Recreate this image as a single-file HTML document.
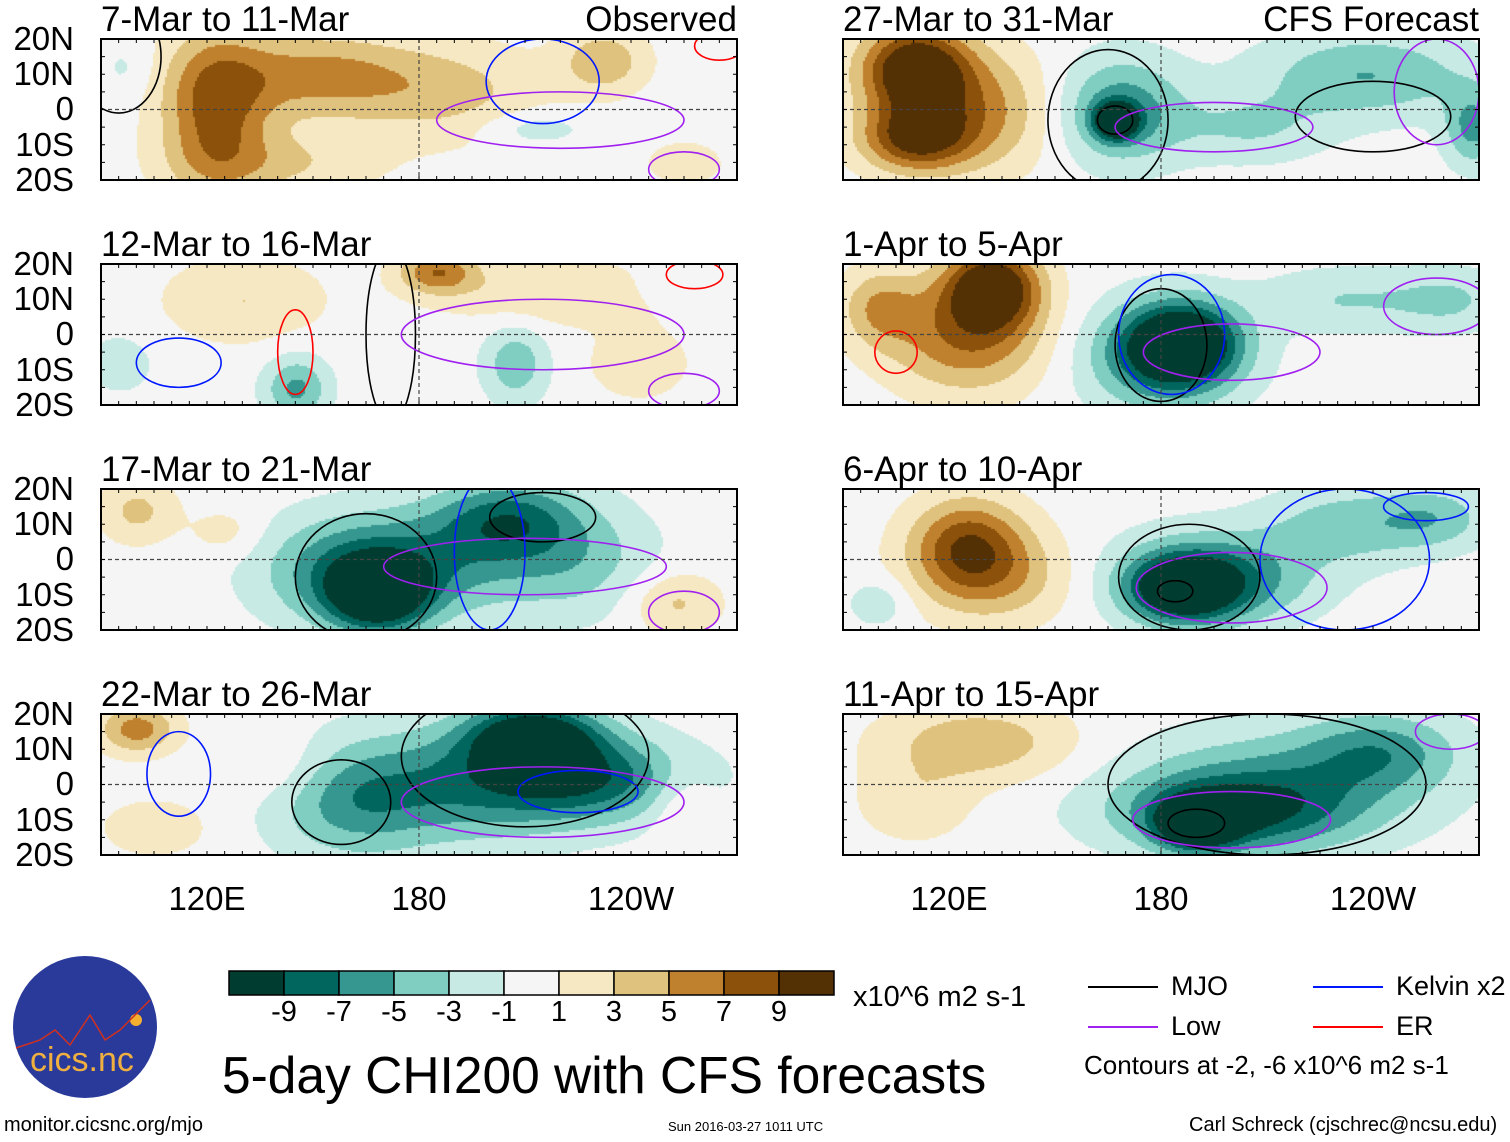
<!DOCTYPE html>
<html><head><meta charset="utf-8">
<style>
body{margin:0;background:#fff;width:1510px;height:1142px;position:relative;overflow:hidden;font-family:"Liberation Sans",sans-serif;}
.t{position:absolute;white-space:nowrap;color:#000;line-height:1;}
canvas{position:absolute;}
</style></head><body>
<svg id="frames" width="1510" height="1142" style="position:absolute;left:0;top:0;z-index:2"></svg>
<div id="texts"></div>
<script>
// ---- data ----
const panelTitles = ["7-Mar to 11-Mar","12-Mar to 16-Mar","17-Mar to 21-Mar","22-Mar to 26-Mar","27-Mar to 31-Mar","1-Apr to 5-Apr","6-Apr to 10-Apr","11-Apr to 15-Apr"];
const latTicks = ["20N","10N","0","10S","20S"];
const lonTicks = ["120E","180","120W"];
const lonTickValues = [120,180,240];
const colorLevels = [-9,-7,-5,-3,-1,1,3,5,7,9];
const colorFills = ["#003c30","#01665e","#35978f","#80cdc1","#c7eae5","#f5f5f5","#f6e8c3","#dfc27d","#bf812d","#8c510a","#543005"];
// anomaly centres: [lon, lat, amplitude, lonRadius, latRadius]
const blobs0 = [[122,0,7.5,15,22],[150,10,5.5,28,12],[188,5,3.5,28,14],[232,14,4.5,12,9],[212,-5,-2.5,15,5],[140,-15,3,28,9],[97,12,-1.5,8,8],[255,-15,2,12,7]];
const blobs1 = [[185,18,6.5,11,6],[130,10,3,22,12],[218,12,3,32,9],[145,-15,-5.5,9,9],[207,-8,-4.5,9,11],[95,-8,-2.5,9,8],[242,-8,2.5,14,10],[250,14,-1.5,10,6]];
const blobs2 = [[168,-10,-10.5,14,10],[160,-3,-6,25,15],[205,12,-6.5,20,11],[225,0,-3.5,22,16],[187,0,-4.5,30,16],[100,14,3.5,11,9],[252,-12,3.5,13,9],[125,8,2,10,7]];
const blobs3 = [[212,14,-11,18,9],[226,2,-8,30,12],[190,0,-5.5,35,17],[160,-5,-4.5,22,16],[100,16,6,11,7],[105,-12,2.5,15,8],[254,-5,2.5,9,11],[140,5,2,16,10]];
const blobs4 = [[110,12,11,15,12],[110,-8,8,15,9],[125,0,6,24,17],[167,-3,-11,6,5],[168,0,-6.5,18,15],[238,10,-5,30,12],[268,-5,-5.5,8,11],[205,-5,-3,22,10]];
const blobs5 = [[132,14,11,13,11],[125,0,7,22,16],[100,8,4.5,11,11],[186,-2,-11,15,11],[180,-6,-7,22,15],[232,10,-3,24,9],[262,10,-3,16,9]];
const blobs6 = [[125,5,7.5,16,13],[132,-5,4.5,22,13],[186,-8,-11,15,9],[195,-5,-7,27,13],[232,10,-4,22,11],[257,12,-4,16,9],[100,-12,-2.5,9,7]];
const blobs7 = [[128,12,4.5,27,11],[110,-5,2.5,16,11],[190,-11,-11,11,7],[200,-8,-7,32,11],[212,0,-5,42,16],[242,10,-5,22,11]];
const panelBlobs = [blobs0,blobs1,blobs2,blobs3,blobs4,blobs5,blobs6,blobs7];
// contour ellipses: [type, lon, lat, lonRadius, latRadius]
const contours0 = [["mjo",95,15,12,16],["kel",215,8,16,12],["low",220,-3,35,8],["low",255,-17,10,5],["er",265,18,7,4]];
const contours1 = [["mjo",172,0,7,25],["kel",112,-8,12,7],["er",145,-5,5,12],["low",215,0,40,10],["low",255,-16,10,5],["er",258,17,8,4]];
const contours2 = [["mjo",165,-5,20,18],["mjo",215,12,15,7],["kel",200,2,10,22],["low",210,-2,40,8],["low",255,-15,10,6]];
const contours3 = [["kel",112,3,9,12],["mjo",158,-5,14,12],["mjo",210,8,35,20],["kel",225,-2,17,6],["low",215,-5,40,10]];
const contours4 = [["mjo",167,-3,5,4],["mjo",165,-3,17,20],["mjo",240,-2,22,10],["low",195,-5,28,7],["low",258,5,12,15]];
const contours5 = [["mjo",180,-3,13,16],["kel",183,0,15,17],["low",200,-5,25,8],["er",105,-5,6,6],["low",258,8,15,8]];
const contours6 = [["mjo",188,-5,20,15],["mjo",184,-9,5,3],["kel",232,0,24,20],["low",200,-8,27,10],["kel",255,15,12,4]];
const contours7 = [["mjo",210,0,45,20],["mjo",190,-11,8,4],["low",200,-10,28,8],["low",262,15,10,5]];
const panelContours = [contours0,contours1,contours2,contours3,contours4,contours5,contours6,contours7];

// ---- layout ----
const PW=636, PH=141;
const panelX=[101,101,101,101,843,843,843,843];
const panelY=[39,264,489,714,39,264,489,714];
const lonToX = (lon)=> (lon-90)/180*PW;
const latToY = (lat)=> (20-lat)/40*PH;
const lineColors={mjo:"#000",kel:"#0018ff",low:"#a020f0",er:"#ff0000"};
function colorFor(v){let i=0;while(i<colorLevels.length && v>colorLevels[i]) i++;return colorFills[i];}
const NS="http://www.w3.org/2000/svg";
const svg=document.getElementById('frames');
const texts=document.getElementById('texts');
function txt(s,x,y,size,name,extra){const d=document.createElement('div');d.className='t';d.textContent=s;d.style.left=x+'px';d.style.top=y+'px';d.style.fontSize=size+'px';if(extra)Object.assign(d.style,extra);


texts.appendChild(d);return d;}
function sv(tag,attrs){const e=document.createElementNS(NS,tag);for(const k in attrs)e.setAttribute(k,attrs[k]);svg.appendChild(e);return e;}

panelBlobs.forEach((bl,p)=>{
  const c=document.createElement('canvas');c.width=PW;c.height=PH;c.style.left=panelX[p]+'px';c.style.top=panelY[p]+'px';
  
  
  document.body.appendChild(c);
  const ctx=c.getContext('2d');
  const step=2;
  for(let py=0;py<PH;py+=step){for(let px=0;px<PW;px+=step){
    const lon=90+px/PW*180, lat=20-py/PH*40; let v=0;
    bl.forEach(b=>{const dx=(lon-b[0])/b[3],dy=(lat-b[1])/b[4];v+=b[2]*Math.exp(-(dx*dx+dy*dy));});
    ctx.fillStyle=colorFor(v);ctx.fillRect(px,py,step,step);
  }}
  const ox=panelX[p],oy=panelY[p];
  const cp=sv('clipPath',{id:'cp'+p});const r=document.createElementNS(NS,'rect');r.setAttribute('x',ox);r.setAttribute('y',oy);r.setAttribute('width',PW);r.setAttribute('height',PH);cp.appendChild(r);
  const g=sv('g',{'clip-path':'url(#cp'+p+')'});
  
  
  panelContours[p].forEach(ct=>{
    const e=document.createElementNS(NS,'ellipse');
    e.setAttribute('cx',ox+lonToX(ct[1]));e.setAttribute('cy',oy+latToY(ct[2]));
    e.setAttribute('rx',ct[3]/180*PW);e.setAttribute('ry',ct[4]/40*PH);
    e.setAttribute('fill','none');e.setAttribute('stroke',lineColors[ct[0]]);e.setAttribute('stroke-width','1.6');
    
    
    g.appendChild(e);
  });
  const eq=sv('line',{x1:ox,x2:ox+PW,y1:oy+latToY(0),y2:oy+latToY(0),stroke:'#444','stroke-dasharray':'4,3','stroke-width':1.2});
  
  
  const dl=sv('line',{x1:ox+lonToX(180),x2:ox+lonToX(180),y1:oy,y2:oy+PH,stroke:'#444','stroke-dasharray':'4,3','stroke-width':1.2});
  
  
  for(let lon=90;lon<=270;lon+=5){const x=ox+lonToX(lon);sv('line',{x1:x,x2:x,y1:oy,y2:oy+4,stroke:'#000','stroke-width':1});sv('line',{x1:x,x2:x,y1:oy+PH-4,y2:oy+PH,stroke:'#000','stroke-width':1});}
  for(let lat=-20;lat<=20;lat+=5){const y=oy+latToY(lat);sv('line',{x1:ox,x2:ox+4,y1:y,y2:y,stroke:'#000','stroke-width':1});sv('line',{x1:ox+PW-4,x2:ox+PW,y1:y,y2:y,stroke:'#000','stroke-width':1});}
  const fr=sv('rect',{x:ox,y:oy,width:PW,height:PH,fill:'none',stroke:'#000','stroke-width':2});
  
  
  txt(panelTitles[p],ox,oy-37,35,'panel-title');
  if(p<4){latTicks.forEach((t,i)=>{txt(t,0,oy-17+i*35.2,33,'lat-tick-label',{width:'74px',textAlign:'right'});});}
  if(p===3||p===7){lonTicks.forEach((t,i)=>{const x=ox+lonToX(lonTickValues[i]);txt(t,x-60,oy+PH+27,33,'lon-tick-label',{width:'120px',textAlign:'center'});});}
});
txt("Observed",537,2,35,'observed-label',{width:'200px',textAlign:'right'});
txt("CFS Forecast",1229,2,35,'cfs-forecast-label',{width:'250px',textAlign:'right'});
colorFills.forEach((c,i)=>{const r=sv('rect',{x:229+i*55,y:971,width:55,height:24,fill:c,stroke:'#000','stroke-width':1.5});

});
colorLevels.forEach((l,i)=>{txt(String(l),229+(i+1)*55-30,998,29,'colorbar-label',{width:'60px',textAlign:'center'});});
txt("x10^6 m2 s-1",853,983,29,'units-label');
txt("5-day CHI200 with CFS forecasts",222,1050,51.5,'chart-title');
[["mjo",1088,987,"MJO"],["kel",1313,987,"Kelvin x2"],["low",1088,1027,"Low"],["er",1313,1027,"ER"]].forEach(l=>{
  const ln=sv('line',{x1:l[1],x2:l[1]+70,y1:l[2],y2:l[2],stroke:lineColors[l[0]],'stroke-width':2});
  
  
  txt(l[3],l[1]+83,l[2]-14,27,'legend-entry');
});
txt("Contours at -2, -6 x10^6 m2 s-1",1084,1052,26,'contour-note');
txt("monitor.cicsnc.org/mjo",4,1115,20,'source-url');
txt("Sun 2016-03-27 1011 UTC",668,1120,13,'timestamp');
txt("Carl Schreck (cjschrec@ncsu.edu)",1189,1115,20,'author-credit');
const lg=sv('ellipse',{cx:85,cy:1027,rx:72,ry:71,fill:'#2a3a9a'});


sv('circle',{cx:136,cy:1020,r:6,fill:'#f5b030'});
sv('polyline',{points:'16,1048 40,1040 55,1030 70,1045 90,1015 105,1040 120,1030 140,1010 150,1000',fill:'none',stroke:'#d03020','stroke-width':1.5});
txt("cics.nc",30,1043,34,'logo-text',{color:'#f0b040',zIndex:3});
</script>
</body></html>
